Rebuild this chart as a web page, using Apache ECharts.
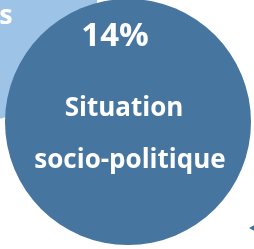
<!DOCTYPE html>
<html><head><meta charset="utf-8">
<script src="https://cdn.jsdelivr.net/npm/echarts@6/dist/echarts.min.js"></script>
<style>html,body{margin:0;padding:0;background:#fff}#c{width:254px;height:249px}</style>
</head><body><div id="c"></div>
<script>
// Bubble data (x, y in chart units; value = share in %)
const bubbleNames = ["s", "Situation socio-politique"];
const bubbleX = [-30, 128];
const bubbleY = [-5, 122];
const bubbleValues = [15, 14];
const bubbleColors = ["#9DC3E6", "#4675A0"];
const arrowPoint = [253, 228];

const chart = echarts.init(document.getElementById('c'), null, {renderer: 'canvas'});
const sizeOf = v => 65.75 * Math.sqrt(v);
const font = '"Open Sans", sans-serif';

const option = {
  animation: false,
  grid: {left: 0, right: 0, top: 0, bottom: 0},
  xAxis: {type: 'value', min: 0, max: 254, show: false},
  yAxis: {type: 'value', min: 0, max: 249, inverse: true, show: false},
  series: [
    {
      type: 'scatter', clip: false,
      symbolSize: d => sizeOf(d[2]),
      itemStyle: {opacity: 1},
      data: [{
        value: [bubbleX[0], bubbleY[0], bubbleValues[0]],
        itemStyle: {color: bubbleColors[0], opacity: 1},
        label: {show: true, formatter: bubbleNames[0], position: 'inside', offset: [36, 21],
          color: '#fff', fontFamily: font, fontWeight: 'bold', fontSize: 27}
      }]
    },
    {
      type: 'scatter', clip: false,
      symbolSize: d => sizeOf(d[2]),
      itemStyle: {opacity: 1},
      data: [{
        value: [bubbleX[1], bubbleY[1], bubbleValues[1]],
        itemStyle: {color: bubbleColors[1], opacity: 1},
        label: {
          show: true, position: 'inside', offset: [0, -33],
          formatter: '{a|' + bubbleValues[1] + '%}\n{b|Situation}\n{c|socio-politique}',
          color: '#fff', fontFamily: font, fontWeight: 'bold', align: 'center',
          rich: {
            a: {fontSize: 33, lineHeight: 92, color: '#fff', fontFamily: font, fontWeight: 'bold', padding: [0, 26, 0, 0]},
            b: {fontSize: 26, lineHeight: 52, color: '#fff', fontFamily: font, fontWeight: 'bold', padding: [0, 8, 0, 0]},
            c: {fontSize: 26, lineHeight: 52, color: '#fff', fontFamily: font, fontWeight: 'bold', padding: [0, 0, 0, 4]}
          }
        }
      }]
    },
    {
      type: 'scatter', clip: false,
      symbol: 'triangle', symbolSize: [9, 8], symbolRotate: 90,
      itemStyle: {color: '#41719C', opacity: 1},
      data: [arrowPoint]
    }
  ]
};
chart.setOption(option);
</script></body></html>
